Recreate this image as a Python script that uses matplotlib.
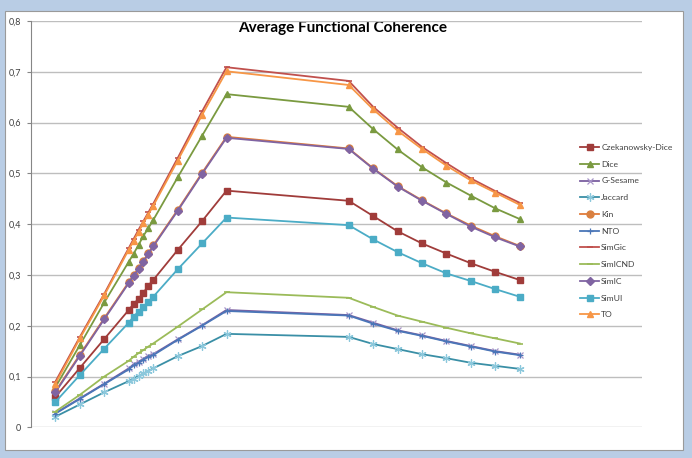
import matplotlib
matplotlib.use("Agg")
import matplotlib.pyplot as plt
from matplotlib.patches import Rectangle
from matplotlib.ticker import FuncFormatter, MultipleLocator

x = [0.1, 0.2, 0.3, 0.4, 0.42, 0.44, 0.46, 0.48, 0.5, 0.6, 0.7, 0.8,
     1.3, 1.4, 1.5, 1.6, 1.7, 1.8, 1.9, 2.0]

czekanowsky_dice = [0.060, 0.117, 0.174, 0.231, 0.243, 0.253, 0.265, 0.279, 0.290, 0.349, 0.406, 0.466,
                    0.446, 0.416, 0.386, 0.362, 0.342, 0.323, 0.306, 0.290]
dice = [0.079, 0.162, 0.246, 0.326, 0.342, 0.359, 0.377, 0.392, 0.408, 0.492, 0.574, 0.656,
        0.631, 0.587, 0.547, 0.512, 0.482, 0.456, 0.431, 0.410]
g_sesame = [0.028, 0.057, 0.086, 0.116, 0.124, 0.129, 0.135, 0.141, 0.144, 0.173, 0.201, 0.231,
            0.221, 0.206, 0.191, 0.181, 0.170, 0.160, 0.150, 0.143]
jaccard = [0.021, 0.045, 0.069, 0.091, 0.096, 0.101, 0.106, 0.111, 0.116, 0.140, 0.160, 0.184,
           0.178, 0.164, 0.154, 0.144, 0.136, 0.127, 0.121, 0.115]
kin = [0.071, 0.143, 0.215, 0.286, 0.300, 0.313, 0.328, 0.343, 0.358, 0.428, 0.501, 0.572,
       0.549, 0.510, 0.475, 0.447, 0.421, 0.397, 0.376, 0.357]
nto = [0.027, 0.056, 0.085, 0.114, 0.122, 0.127, 0.133, 0.139, 0.142, 0.172, 0.200, 0.229,
       0.220, 0.204, 0.190, 0.180, 0.169, 0.159, 0.149, 0.142]
simgic = [0.090, 0.178, 0.263, 0.353, 0.371, 0.389, 0.406, 0.423, 0.440, 0.530, 0.622, 0.709,
          0.682, 0.631, 0.590, 0.552, 0.520, 0.490, 0.465, 0.442]
simicnd = [0.031, 0.064, 0.100, 0.131, 0.139, 0.146, 0.152, 0.159, 0.165, 0.198, 0.232, 0.266,
           0.255, 0.237, 0.220, 0.208, 0.196, 0.185, 0.175, 0.165]
simic = [0.069, 0.141, 0.213, 0.284, 0.298, 0.311, 0.326, 0.341, 0.356, 0.426, 0.499, 0.570,
         0.548, 0.509, 0.474, 0.446, 0.420, 0.395, 0.374, 0.356]
simui = [0.050, 0.103, 0.155, 0.206, 0.218, 0.228, 0.237, 0.247, 0.257, 0.311, 0.362, 0.413,
         0.398, 0.370, 0.345, 0.323, 0.303, 0.288, 0.272, 0.257]
to = [0.086, 0.175, 0.260, 0.350, 0.367, 0.385, 0.402, 0.419, 0.436, 0.525, 0.615, 0.701,
      0.674, 0.626, 0.584, 0.548, 0.515, 0.486, 0.462, 0.438]

labels = ["Czekanowsky-Dice", "Dice", "G-Sesame", "Jaccard", "Kin", "NTO",
          "SimGic", "SimICND", "SimIC", "SimUI", "TO"]
series = [czekanowsky_dice, dice, g_sesame, jaccard, kin, nto,
          simgic, simicnd, simic, simui, to]

styles = [
    dict(color="#A03C3A", marker="s", ms=4.8, mfc="#A03C3A", mec="#A03C3A"),
    dict(color="#7A9A40", marker="^", ms=5.0, mfc="#7A9A40", mec="#7A9A40"),
    dict(color="#7B5FA0", marker="x", ms=4.8, mfc="none", mec="#A894C8", mew=0.9),
    dict(color="#3A8FA6", marker=(6, 2, 0), ms=5.8, mfc="none", mec="#8CC8DC", mew=0.9),
    dict(color="#E07B39", marker="o", ms=5.0, mfc="#D98040", mec="#D98040"),
    dict(color="#4A76B8", marker="+", ms=4.5, mfc="none", mec="#4A76B8", mew=0.9),
    dict(color="#C0504D", marker="_", ms=4, mfc="#C0504D", mec="#C0504D", mew=1.2),
    dict(color="#9BBB59", marker="_", ms=4, mfc="#9BBB59", mec="#9BBB59", mew=1.2),
    dict(color="#8064A2", marker="D", ms=4.0, mfc="#8064A2", mec="#8064A2"),
    dict(color="#4BACC6", marker="s", ms=4.8, mfc="#4BACC6", mec="#4BACC6"),
    dict(color="#F79646", marker="^", ms=5.0, mfc="#F79646", mec="#F79646"),
]

W, H = 692, 458
fig = plt.figure(figsize=(W / 100, H / 100), dpi=100)
fig.patch.set_facecolor("#B9CDE5")
bg = Rectangle((5 / W, 1 - 450 / H), (683 - 5) / W, (450 - 11) / H,
               transform=fig.transFigure, facecolor="white",
               edgecolor="#9A9A9A", linewidth=0.8, zorder=-10)
fig.patches.append(bg)

ax = fig.add_axes([31 / W, 1 - 427.3 / H, (642 - 31) / W, (427.3 - 21) / H])
ax.set_zorder(5)
ax.patch.set_visible(False)
ax.set_xlim(0, 2.5)
ax.set_ylim(0, 0.8)
ax.yaxis.set_major_locator(MultipleLocator(0.1))
ax.yaxis.set_major_formatter(FuncFormatter(
    lambda v, p: "0" if abs(v) < 1e-9 else ("%.1f" % v).replace(".", ",")))
ax.set_xticks([])
ax.grid(axis="y", color="#BEBEBE", linewidth=1.0)
ax.set_axisbelow(True)
for s in ["top", "right", "bottom"]:
    ax.spines[s].set_visible(False)
ax.spines["left"].set_color("#868686")
ax.spines["left"].set_linewidth(0.8)
ax.tick_params(axis="y", length=3, color="#868686", labelsize=6.5,
               labelcolor="#404040", pad=4)
for t in ax.get_yticklabels():
    t.set_fontfamily("Lato")

for lab, ys, st in zip(labels, series, styles):
    ax.plot(x, ys, label=lab, linewidth=1.3, clip_on=False, **st)

leg = ax.legend(loc="upper left", bbox_to_anchor=(580 / W, 1 - 144 / H),
                bbox_transform=fig.transFigure, frameon=False,
                prop={"family": "Lato", "size": 6.1}, handlelength=2.3,
                handletextpad=0.2, labelspacing=1.15, borderpad=0, borderaxespad=0)
for t in leg.get_texts():
    t.set_color("#404040")

fig.text(343 / W, 1 - 28 / H, "Average Functional Coherence", ha="center", va="center",
         fontsize=11, fontweight="bold", fontfamily="Lato", color="black")

fig.savefig("out.png", dpi=100, facecolor=fig.get_facecolor())
